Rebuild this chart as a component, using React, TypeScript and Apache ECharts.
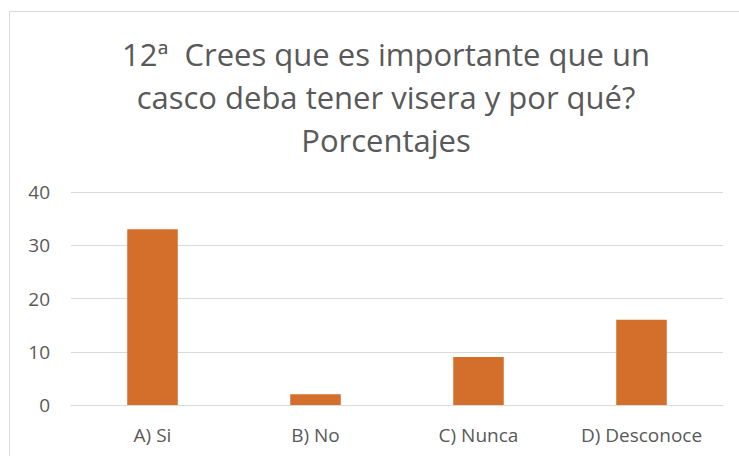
import React, { useEffect, useRef } from "react";
import * as echarts from "echarts";

const categories = ["A) Si", "B) No", "C) Nunca", "D) Desconoce"];
const values = [33, 2, 9, 16];
const titleLines = ["12ª  Crees que es importante que un", "casco deba tener visera y por qué?", "Porcentajes"];

const FONT = "'Open Sans', sans-serif";

export default function App() {
  const ref = useRef<HTMLDivElement>(null);
  useEffect(() => {
    const chart = echarts.init(ref.current!, null, { renderer: "svg" });
    chart.setOption({
      animation: false,
      backgroundColor: "#ffffff",
      textStyle: { fontFamily: FONT },
      title: {
        text: titleLines.join("\n"),
        left: 381,
        top: 27,
        textAlign: "center",
        textStyle: { fontFamily: FONT, fontSize: 31, fontWeight: "normal", color: "#595959", lineHeight: 43 },
      },
      graphic: [
        {
          type: "rect",
          shape: { x: 9.5, y: 11.5, width: 740, height: 460 },
          style: { fill: "none", stroke: "#D9D9D9", lineWidth: 1 },
          silent: true,
        },
      ],
      grid: { left: 71, right: 16, top: 192, bottom: 51, containLabel: false },
      xAxis: {
        type: "category",
        data: categories,
        axisLine: { show: true, lineStyle: { color: "#D9D9D9", width: 1 } },
        axisTick: { show: false },
        axisLabel: { color: "#595959", fontSize: 19, margin: 20, fontFamily: FONT },
      },
      yAxis: {
        type: "value",
        min: 0,
        max: 40,
        interval: 10,
        axisLine: { show: false },
        axisTick: { show: false },
        splitLine: { lineStyle: { color: "#D9D9D9", width: 1 } },
        axisLabel: { color: "#595959", fontSize: 19, margin: 21, fontFamily: FONT },
      },
      series: [
        {
          type: "bar",
          data: values,
          barWidth: "31%",
          itemStyle: { color: "#D46F2B" },
        },
      ],
    });
    return () => chart.dispose();
  }, []);
  return <div ref={ref} style={{ position: "fixed", left: 0, top: 0, width: 739, height: 456 }} />;
}
